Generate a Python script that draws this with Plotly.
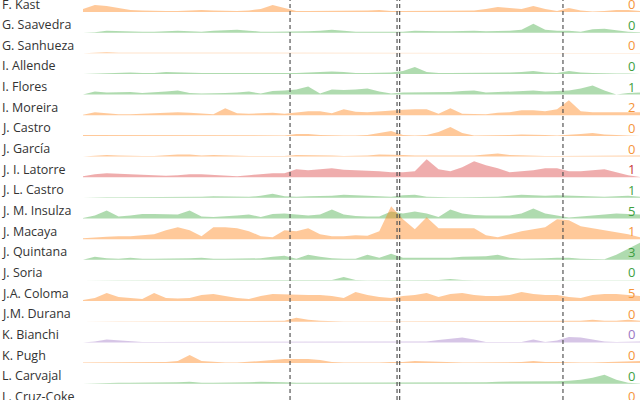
import plotly.graph_objects as go

names = ["F. Kast", "G. Saavedra", "G. Sanhueza", "I. Allende", "I. Flores", "I. Moreira",
         "J. Castro", "J. García", "J. I. Latorre", "J. L. Castro", "J. M. Insulza", "J. Macaya",
         "J. Quintana", "J. Soria", "J.A. Coloma", "J.M. Durana", "K. Bianchi", "K. Pugh",
         "L. Carvajal", "L. Cruz-Coke"]
groups = ["orange", "green", "orange", "green", "green", "orange",
          "orange", "orange", "red", "green", "green", "orange",
          "green", "green", "orange", "orange", "purple", "orange",
          "green", "orange"]
totals = [0, 0, 0, 0, 1, 2, 0, 0, 1, 1, 5, 1, 3, 0, 5, 0, 0, 0, 0, 0]

periods = list(range(48))
event_marks = [17.47, 26.5, 26.72, 40.5]

series = {
 "F. Kast": [3,7,6,4,2,1.5,1,1,1,1.5,2,1.5,1,1,1.5,3,7,4,1,1,1,1,1,1.5,1.5,2,1,1,1,1,1,1,1,1.5,3,5,4,3,6,3,1,4,1.5,0.5,1,2,2,1],
 "G. Saavedra": [0,0.5,2,1.5,1,1,1,1.5,2,1.5,1,2,2.5,3,2,1,1,1,1,1.5,2,3,2,1,1,1,1,1,2,1.5,1.5,1.5,2,2,1.5,1.5,2,3,9,3,2,2,1,3.5,4,2.5,1,0.5],
 "G. Sanhueza": [0,0.5,1,0.5,0.5,0.5,0.5,1,0.5,0.5,0.5,0.5,0.5,0.3,0.3,0.5,0.3,0.5,1,1,1,1,0.5,0.3,0.3,0.3,0.3,0.5,0.5,0.5,1,1,1,0.5,0.5,0.5,1,1,0.5,0.5,0.5,0.5,0.3,0.3,0.5,0.5,0.5,0.3],
 "I. Allende": [0,0.5,1,1,1.5,1,1,2,1.5,1,1,1,1,1,1,0.5,0.3,1,1,1.5,2,2.5,2,1,1,1,1.5,3,7,2,1,1,1,1,1,1,1.5,2,3,1.5,1,3,1.5,1,0.5,0.5,0.5,0.3],
 "I. Flores": [0,3,2,2,2.5,1.5,2,3,4,1.5,1,1,1.5,2,3,1,3.5,4,5,8,1,5,4.5,5,6,3,1,2,2,2,2,2.5,3.5,4,2,2.5,3,3,4,3,3.5,4,6,9,4,0,1.5,2],
 "I. Moreira": [0.5,3,2,1,1,1.5,2,2,3,2.5,2,1,7,2,1.5,2,2.5,1.5,2.5,4,4,2,6,3.5,3,4,5,5.5,6,6,1.5,7,1.5,1,1,2.5,3,5,5,4,6,15,4,3,3,3,3,3],
 "J. Castro": [1,1,1,0.5,0.5,0.5,1,1,0.5,0.5,0.5,0.5,0.5,0.5,0.5,0.5,0.5,0.5,2,2,1,0.5,0.5,0.5,1,3,5,1,0.5,1,4,9,3,0.5,0.5,0.5,1,1.5,1.5,1,0.5,1,2,3,1.5,1,0.5,0.5],
 "J. García": [0,1,1.5,1,0.5,0.5,0.5,1.5,2,2,1,1.5,1,0.5,0.5,0.5,0.5,0.5,1.5,1.5,1.5,1,0.5,0.5,1,2,2,1.5,1,1,0.5,0.5,0.5,1,2,3,1.5,1,1,0.5,0.5,0.5,0.5,0.5,1,0.5,1,1],
 "J. I. Latorre": [1,3,4,3.5,3,2.5,2,1.5,2,3,3,2.5,2,1,2,3,4,4,8,7,8,9,7.5,7,7,6,5,5,6,18,8,6,10,16,12,9,5,6,7,9,9,6,6,7,8,5,2,0.3],
 "J. L. Castro": [0,0.5,0.5,0.5,0.5,1,1,0.5,1,1,1,1.5,1.5,1.5,1,2,4,1.5,1,1.5,1.5,2,3,2.5,1.5,1,1,2.5,3,1,0.5,0.5,0.5,0.5,0.5,1,2,3,2.5,2,2.5,2,1.5,1,1,1.5,2,1],
 "J. M. Insulza": [0.5,3,8,2,3,4.5,4.5,4.5,4,8,2,1.5,2,3,4,1.5,4.5,5,4,3,4,9,4,2.5,2,2,7,5,7,5,1.5,9,5,3.5,3,3,3,5,10,5,3,1,2,3,4,5,4.5,4],
 "J. Macaya": [1,2,2.5,3,3,4,5,9,12,9,3,12,12,11,8,3,2,9,8,11,5,3,3,4,3.5,8,33,20,10,22,11,11,11,11,4,2,5,8,10,12,20,19,13,11,9,7,5,2],
 "J. Quintana": [0,3,1.5,1,2,1,1,1,1,1.5,2,1,1,1,1.5,1.5,3,4,1,5,3,1.5,1,1,5,2,6,2,2,2,1.5,2,3,3,3.5,5,2,1,1,1.5,2,2,1,1,0.5,5,11,17],
 "J. Soria": [0,0.3,0.3,0.3,0.3,0.3,0.3,0.3,0.3,0.5,0.5,0.5,1,0.5,0.3,0.3,0.3,0.3,0.3,0.3,0.3,0.5,3.5,0.5,0.3,0.3,0.3,0.3,0.3,0.3,0.5,1.5,0.5,0.3,0.3,0.3,0.3,0.3,0.3,0.5,1,0.5,0.3,0.3,0.3,0.3,0.3,0.3],
 "J.A. Coloma": [1,3,8,4,3,2,8,3,2.5,3,6,7,5,3,2,5,7,6.5,6,6,6,5,3,9,6,4,3,5,6,8,4,7,8,6,5,5,6,9,7,6,6,4,3,6,7,7,6,5],
 "J.M. Durana": [0,0.3,0.3,0.3,0.3,0.3,0.3,0.3,0.5,0.5,0.5,0.5,0.5,0.5,0.5,1,0.5,1,4,2,1,0.5,0.3,0.3,0.3,0.3,0.3,0.3,0.3,0.3,0.5,1,0.5,0.3,0.3,0.5,1,1,1,0.5,0.5,0.5,1,2,1,1,2,1],
 "K. Bianchi": [0,1,3,2,1,0.5,0.3,0.3,0.3,0.3,0.3,0.3,0.5,1,1,1,1,1,1,1,1,1,0.5,0.3,0.3,0.3,0.3,0.3,0.3,1,2.5,4,5,3,0.5,0.3,0.3,0.5,3,0.5,2,5.5,5,3,1,0.5,0.5,1],
 "K. Pugh": [0.5,0.5,1,1,1,1,1,1,2,8,2,1,0.5,0.5,1,2,3,4,4,4,3,1,0.5,0.3,0.3,0.5,1,1,2,1.5,1,0.5,0.5,0.5,0.5,0.5,0.5,1,2,1,1,0.5,0.5,0.5,1,1,2,2],
 "L. Carvajal": [0,0.5,1,1,1,1,1,1,1.5,2,1,1,1,1,1.5,2,2,1.5,1,1,1,1,1,1,1,1,1,1,1,1,1,1,1,1.5,1.5,2,2,2,2.5,2,2.5,3,4,6,9,4,1,0.3],
 "L. Cruz-Coke": [0,0.5,0.5,0.5,0.5,0.5,0.5,0.5,0.5,0.5,0.5,0.5,0.5,0.5,0.5,0.5,0.5,0.5,0.5,0.5,0.5,0.5,0.5,0.5,0.5,0.5,0.5,0.5,0.5,0.5,0.5,0.5,0.5,0.5,0.5,0.5,0.5,0.5,0.5,0.5,0.5,0.5,0.5,0.5,1,2,1,0.5],
}

fill_colors = {"orange": "rgba(255,127,14,0.42)", "green": "rgba(44,160,44,0.38)",
               "red": "rgba(214,39,40,0.38)", "purple": "rgba(148,103,189,0.38)"}
text_colors = {"orange": "#f5953a", "green": "#3f9f3f", "red": "#c8363a", "purple": "#9b78c4"}

ROW_H = 20.65
TOP_BASE = 12

fig = go.Figure()
annotations = []
for i, name in enumerate(names):
    base = -(TOP_BASE + ROW_H * i)
    vals = series[name]
    xs = periods + periods[::-1]
    ys = [base + v for v in vals] + [base] * len(periods)
    fig.add_trace(go.Scatter(x=xs, y=ys, fill="toself", mode="lines",
                             line=dict(width=0), fillcolor=fill_colors[groups[i]],
                             hoverinfo="skip", showlegend=False))
    annotations.append(dict(x=0, xref="paper", y=base + 8, yref="y", text=name,
                            showarrow=False, xanchor="left", yanchor="middle",
                            font=dict(family="Open Sans", size=12.5, color="#333")))
    annotations.append(dict(x=637 / 640, xref="paper", y=base + 8, yref="y", text=str(totals[i]),
                            showarrow=False, xanchor="right", yanchor="middle",
                            font=dict(family="Open Sans", size=13, color=text_colors[groups[i]])))

shapes = [dict(type="line", xref="x", yref="paper", x0=m, x1=m, y0=0, y1=1,
               line=dict(color="#555", width=1.2, dash="4px,3px")) for m in event_marks]

fig.update_layout(
    width=640, height=400, margin=dict(l=0, r=0, t=0, b=0),
    paper_bgcolor="white", plot_bgcolor="white",
    xaxis=dict(domain=[83 / 640, 1], range=[0, 47], visible=False, fixedrange=True),
    yaxis=dict(range=[-400, 0], visible=False, fixedrange=True),
    annotations=annotations, shapes=shapes,
)
fig.write_html("out.html", config={"displayModeBar": False},
               post_script="document.body.style.margin='0';document.body.style.overflow='hidden';")
